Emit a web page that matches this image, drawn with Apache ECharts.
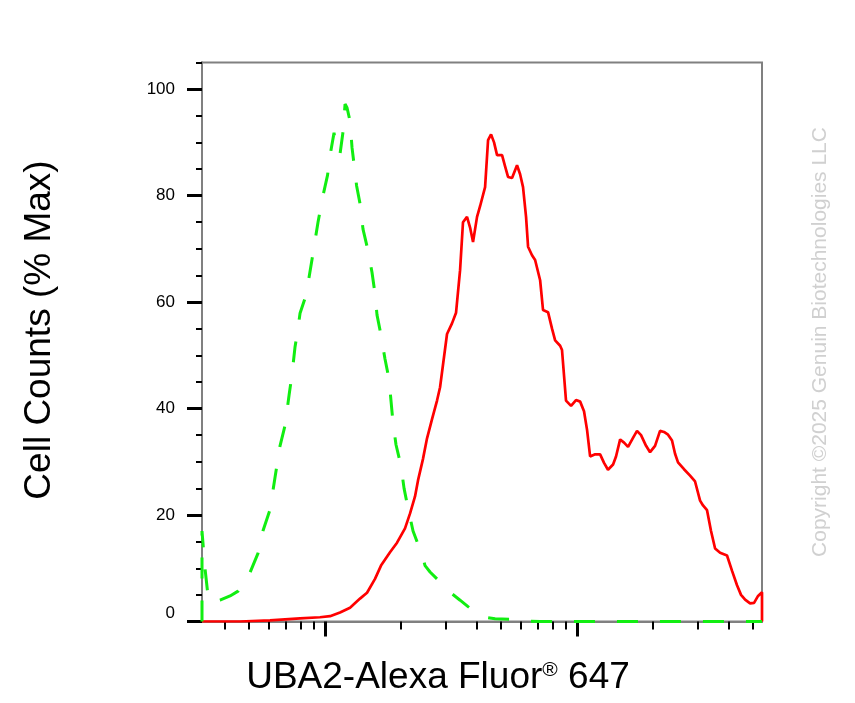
<!DOCTYPE html>
<html>
<head>
<meta charset="utf-8">
<script src="https://cdn.jsdelivr.net/npm/echarts@6/dist/echarts.min.js"></script>
<style>html,body{margin:0;padding:0;background:#fff;}#c{width:855px;height:703px;}</style>
</head>
<body>
<div id="c"></div>
<script>
// ---- data ----
const xMin = 32.5, xMax = 5420;
const xMajorTicks = [100, 1000];
const xMinorTicks = [40, 50, 60, 70, 80, 90, 200, 300, 400, 500, 600, 700, 800, 900, 2000, 3000, 4000, 5000];
const yMajorTicks = [0, 20, 40, 60, 80, 100];
const yMinorTicks = [5, 10, 15, 25, 30, 35, 45, 50, 55, 65, 70, 75, 85, 90, 95, 105];

const redX = [32.5, 46.0, 60.5, 69.4, 79.6, 95.5, 104.7, 114.7, 125.7, 137.7, 146.8, 157.9, 166.8, 181.1, 193.1, 207.7, 217.5, 227.6, 233.9, 244.7, 254.0, 265.9, 278.3, 286.1, 304.9, 319.1, 331.1, 343.5, 352.8, 366.0, 376.4, 386.7, 401.1, 412.4, 431.7, 443.6, 455.9, 468.5, 481.6, 504.1, 518.3, 532.4, 552.3, 578.0, 594.5, 610.6, 627.7, 639.3, 662.9, 681.9, 713.8, 733.1, 767.3, 795.8, 818.7, 857.0, 871.8, 904.3, 946.7, 990.8, 1029, 1066, 1096, 1127, 1180, 1235, 1280, 1327, 1390, 1428, 1483, 1537, 1594, 1668, 1730, 1795, 1879, 1949, 2040, 2135, 2214, 2297, 2382, 2449, 2516, 2658, 2809, 2940, 3078, 3162, 3280, 3402, 3531, 3696, 3937, 4123, 4314, 4475, 4645, 4862, 5041, 5229, 5420, 5420];
const redY = [0, 0, 0.2, 0.4, 0.6, 0.8, 1.0, 1.7, 2.6, 4.3, 5.4, 8.0, 10.5, 13, 14.8, 17.5, 20.3, 23.5, 26.5, 30.5, 34.4, 38, 41.5, 44, 54, 56, 58, 66, 75, 76, 74, 71.3, 76, 78, 81.6, 90.4, 91.5, 90, 87.6, 87.6, 85.5, 83.5, 83.3, 85.7, 84, 81.6, 76, 70.4, 68.8, 67.9, 64.1, 58.5, 58.1, 55, 52.8, 51.8, 51, 41.5, 40.5, 41.6, 41.3, 39.5, 36, 31, 31.4, 31.4, 29.8, 28.5, 29.5, 31, 34.2, 33.6, 32.8, 34.5, 35.8, 35, 33, 31.8, 33, 35.8, 35.6, 35.1, 34, 31.5, 29.9, 28.6, 27.4, 26.3, 22.7, 21.8, 20.9, 17, 13.7, 12.9, 12.4, 9.5, 6.8, 5, 4.1, 3.4, 3.5, 4.8, 5.5, 0];

const greenX = [32.5, 32.5, 33.4, 34.3, 35.6, 38.3, 42.0, 45.2, 48.1, 50.4, 54.2, 56.7, 60.5, 63.3, 66.3, 69.4, 72.0, 74.0, 76.0, 78.1, 79.6, 84.1, 88.8, 93.8, 98.2, 102.3, 105.6, 108.6, 111.6, 114.7, 117.9, 120.1, 122.3, 125.7, 128.0, 130.3, 133.5, 137.7, 141.5, 148.1, 153.6, 157.9, 160.8, 166.8, 173.0, 179.5, 182.8, 186.2, 191.3, 200.3, 205.9, 213.5, 223.5, 233.9, 240.4, 249.4, 261.1, 278.3, 296.7, 319.1, 343.5, 369.4, 397.4, 431.7, 473.0, 542.6, 622.3, 713.8, 1235, 3078, 5420];
const greenY = [0, 17, 10, 5, 3.5, 4, 4.8, 5.7, 7.5, 9.2, 12.8, 17, 21, 27, 33, 36.8, 42.5, 46.5, 51.5, 55, 57.9, 61.3, 68, 75, 80, 83.8, 88.5, 91.8, 88, 87.8, 92, 97.2, 96.5, 94, 89, 86, 81.8, 78.5, 73.7, 69.7, 65.6, 61.6, 57.6, 53.8, 49.3, 45.5, 41.4, 37.3, 33.2, 29.2, 25, 21.3, 17, 14.5, 13.3, 10.5, 9.3, 8, 6.8, 5.2, 4, 2.8, 1.7, 0.8, 0.5, 0.4, 0.1, 0, 0, 0, 0];

const xTitle = 'UBA2-Alexa Fluor';
const xTitleSup = '®';
const xTitleTail = ' 647';
const yTitle = 'Cell Counts (% Max)';
const watermark = 'Copyright ©2025 Genuin Biotechnologies LLC';

// ---- chart ----
const FONT = '"Liberation Sans", Arial, Helvetica, sans-serif';
const chart = echarts.init(document.getElementById('c'), null, {renderer: 'canvas'});
const pairs = (xs, ys) => xs.map((x, i) => [x, ys[i]]);

const baseX = {
  type: 'log', logBase: 10, min: xMin, max: xMax,
  gridIndex: 0,
  splitLine: {show: false},
  axisLabel: {show: false},
  axisLine: {show: true, lineStyle: {color: '#808080', width: 2}}
};
const baseY = {
  type: 'value', min: 0, max: 105,
  splitLine: {show: false},
  axisLine: {show: true, lineStyle: {color: '#808080', width: 2}}
};

chart.setOption({
  animation: false,
  backgroundColor: '#ffffff',
  grid: {left: 202, top: 62.5, right: 93, bottom: 81.5, show: true, borderColor: '#808080', borderWidth: 2},
  xAxis: [
    Object.assign({}, baseX, {
      position: 'bottom',
      axisTick: {show: true, customValues: xMinorTicks, length: 8, lineStyle: {color: '#000', width: 2}}
    }),
    Object.assign({}, baseX, {
      position: 'bottom',
      axisTick: {show: true, customValues: xMajorTicks, length: 15, lineStyle: {color: '#000', width: 3}}
    })
  ],
  yAxis: [
    Object.assign({}, baseY, {
      position: 'left',
      axisTick: {show: true, customValues: yMajorTicks, length: 15, lineStyle: {color: '#000', width: 3}},
      axisLabel: {
        show: true, customValues: yMajorTicks, margin: 27,
        fontFamily: FONT, fontSize: 17, color: '#000',
        formatter: v => v === 0 ? '{z|0}' : String(v),
        rich: {z: {fontFamily: FONT, fontSize: 17, color: '#000', padding: [0, 0, 16, 0]}}
      }
    }),
    Object.assign({}, baseY, {
      position: 'left',
      axisTick: {show: true, customValues: yMinorTicks, length: 6, lineStyle: {color: '#000', width: 2}},
      axisLabel: {show: false}
    })
  ],
  graphic: [
    {
      type: 'text', x: 820, y: 342, rotation: Math.PI / 2,
      style: {text: watermark, fill: '#d0d0d0', font: '21px ' + FONT, align: 'center', verticalAlign: 'middle'}
    },
    {
      type: 'text', x: 40, y: 330, rotation: Math.PI / 2,
      style: {text: yTitle, fill: '#000', font: '37px ' + FONT, align: 'center', verticalAlign: 'middle'}
    },
    {
      type: 'text', x: 438, y: 678,
      style: {
        text: '{a|' + xTitle + '}{r|' + xTitleSup + '}{a|' + xTitleTail + '}',
        align: 'center', verticalAlign: 'middle',
        rich: {
          a: {fontFamily: FONT, fontSize: 37, fill: '#000', color: '#000'},
          r: {fontFamily: FONT, fontSize: 21, fill: '#000', color: '#000', padding: [0, 0, 16, 0]}
        }
      }
    }
  ],
  series: [
    {
      type: 'line', xAxisIndex: 0, yAxisIndex: 0, data: pairs(redX, redY),
      showSymbol: false, symbol: 'none', clip: true, z: 3,
      lineStyle: {color: '#ff0000', width: 2.7}
    },
    {
      type: 'line', xAxisIndex: 0, yAxisIndex: 0, data: pairs(greenX, greenY),
      showSymbol: false, symbol: 'none', clip: true, z: 4,
      lineStyle: {color: '#11ee11', width: 3, type: [21, 22]}
    }
  ]
});
</script>
</body>
</html>
